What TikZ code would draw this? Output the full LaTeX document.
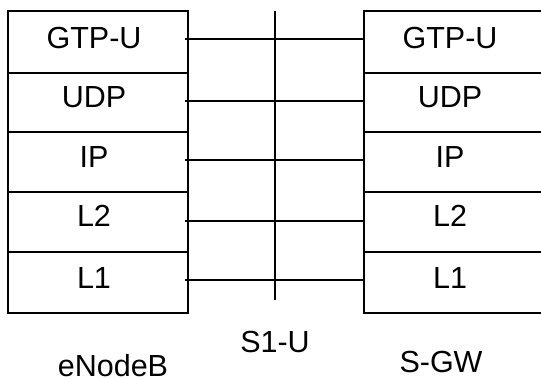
\documentclass[tikz,border=0pt]{standalone}
\usepackage{fontspec}
\setmainfont{Liberation Sans}
\begin{document}
\begin{tikzpicture}[x=1bp,y=-1bp,
  rowbox/.style={draw,line width=1.6bp,inner sep=0pt,rectangle},
  lbox/.style={rowbox,minimum width=180bp},
  rbox/.style={rowbox,minimum width=216bp},
  lbl/.style={inner sep=0pt,anchor=base,font=\fontsize{30.5bp}{36bp}\selectfont},
  link/.style={line width=1.3bp}]
\clip (0,0) rectangle (541,378);
\fill[white] (0,0) rectangle (541,378);
% left stack (eNodeB)
\node[lbox,minimum height=62bp] (lgtp) at (98,42) {};
\node[lbox,minimum height=59bp] (ludp) at (98,102.5) {};
\node[lbox,minimum height=60bp] (lip)  at (98,162) {};
\node[lbox,minimum height=60bp] (ll2)  at (98,222) {};
\node[lbox,minimum height=61bp] (ll1)  at (98,282.5) {};
% right stack (S-GW)
\node[rbox,minimum height=62bp] (rgtp) at (472,42) {};
\node[rbox,minimum height=59bp] (rudp) at (472,102.5) {};
\node[rbox,minimum height=60bp] (rip)  at (472,162) {};
\node[rbox,minimum height=60bp] (rl2)  at (472,222) {};
\node[rbox,minimum height=61bp] (rl1)  at (472,282.5) {};
% labels
\node[lbl] (tlgtp) at (94,48) {GTP-U};
\node[lbl] (tludp) at (94,107) {UDP};
\node[lbl] (tlip)  at (94,167) {IP};
\node[lbl] (tll2)  at (94,226) {L2};
\node[lbl] (tll1)  at (94,288) {L1};
\node[lbl] (trgtp) at (450,48) {GTP-U};
\node[lbl] (trudp) at (450,107) {UDP};
\node[lbl] (trip)  at (450,167) {IP};
\node[lbl] (trl2)  at (450,226) {L2};
\node[lbl] (trl1)  at (450,288) {L1};
% interface line
\coordinate (s1top) at (275,11);
\coordinate (s1bot) at (275,300);
\draw[link] (s1top) -- (s1bot);
% connectors
\draw[link] ([xshift=-4bp,yshift=3bp]lgtp.east) -- ([yshift=3bp]rgtp.west);
\draw[link] ([xshift=-4bp,yshift=1.5bp]ludp.east) -- ([yshift=1.5bp]rudp.west);
\draw[link] ([xshift=-4bp,yshift=2bp]lip.east) -- ([yshift=2bp]rip.west);
\draw[link] ([xshift=-4bp,yshift=1bp]ll2.east) -- ([yshift=1bp]rl2.west);
\draw[link] ([xshift=-4bp,yshift=2.5bp]ll1.east) -- ([yshift=2.5bp]rl1.west);
% captions
\node[lbl] (enb) at (113,376) {eNodeB};
\node[lbl] (s1u) at (275,352) {S1-U};
\node[lbl] (sgw) at (441,372) {S-GW};
\end{tikzpicture}
\end{document}
